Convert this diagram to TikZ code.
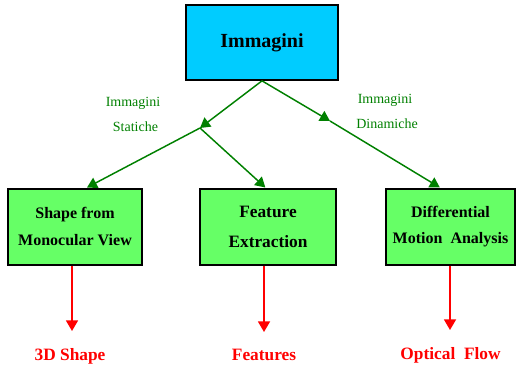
\documentclass[tikz,border=0pt]{standalone}
\usepackage{fontspec}
\setmainfont{Liberation Serif}
\newfontfamily\timesfont{Liberation Serif}
\usetikzlibrary{arrows.meta,positioning}
\definecolor{topcol}{RGB}{0,204,255}
\definecolor{boxcol}{RGB}{102,255,102}
\definecolor{gr}{RGB}{0,128,0}
\definecolor{rd}{RGB}{255,0,0}
\tikzset{
    root/.style={rectangle, draw, line width=1.5pt, fill=topcol, minimum width=114pt, minimum height=56pt, font=\timesfont\fontsize{15}{18}\selectfont\bfseries},
    method/.style={rectangle, draw, line width=1.5pt, fill=boxcol, minimum height=57pt, align=center},
    edge/.style={-{Triangle[length=7.5pt, width=8.5pt]}, gr, line width=1.1pt},
    flow/.style={-{Triangle[length=8pt, width=9pt]}, rd, line width=1.3pt},
    lbl/.style={gr, font=\timesfont\fontsize{10.5}{12}\selectfont, anchor=base},
    res/.style={rd, font=\timesfont\fontsize{13}{15}\selectfont\bfseries, anchor=base}
}

\begin{document}
\begin{tikzpicture}[x=0.75pt, y=-0.75pt]
    \useasboundingbox (0,0) rectangle (516,364);

    \node[root] (img) at (262,42.5) {Immagini};

    \node[method, minimum width=100.5pt, font=\timesfont\fontsize{12}{20}\selectfont\bfseries] (shape) at (75,226.5) {Shape from\\Monocular View};
    \node[method, minimum width=102pt, font=\timesfont\fontsize{13}{22.5}\selectfont\bfseries] (feat) at (268,226.5) {Feature\\Extraction};
    \node[method, minimum width=96.5pt, font=\timesfont\fontsize{12}{20}\selectfont\bfseries] (motion) at (450.5,226.5) {Differential\\Motion~~Analysis};

    \coordinate (split) at (200,128);
    \coordinate (mid) at (330,121);

    \draw[edge] (img.south) -- (split);
    \draw[edge] (split) -- ([xshift=9pt]shape.north);
    \draw[edge] (split) -- ([xshift=-2pt]feat.north);
    \draw[edge] (img.south) -- (mid);
    \draw[edge] (mid) -- ([xshift=-8pt]motion.north);

    \node[lbl] (st1) at (133,106) {Immagini};
    \node[lbl] (st2) at (135.5,131) {Statiche};
    \node[lbl] (dy1) at (385,103) {Immagini};
    \node[lbl] (dy2) at (387,128) {Dinamiche};

    \node[res] (r1) at (70,360) {3D Shape};
    \node[res] (r2) at (264,360) {Features};
    \node[res] (r3) at (450.5,359) {Optical~~Flow};

    \coordinate (t1) at (72,331);
    \coordinate (t2) at (264,332);
    \coordinate (t3) at (450,330);
    \draw[flow] (shape.south -| t1) -- (t1);
    \draw[flow] (feat.south -| t2) -- (t2);
    \draw[flow] (motion.south -| t3) -- (t3);
\end{tikzpicture}
\end{document}
